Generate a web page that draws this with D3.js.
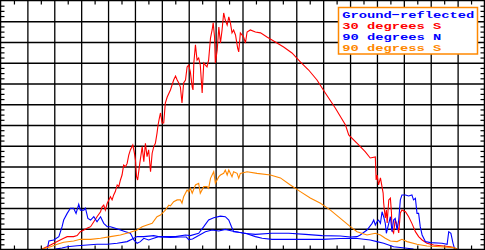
<!DOCTYPE html>
<html>
<head>
<meta charset="utf-8">
<script src="https://cdn.jsdelivr.net/npm/d3@7"></script>
<style>
  body { margin: 0; background: #fff; }
  svg { display: block; }
</style>
</head>
<body>
<div id="chart"></div>
<script>
// irradiance on surfaces, W/m2 against hour of day
var hourTicks = [4, 5, 6, 7, 8, 9, 10, 11, 12, 13, 14, 15, 16, 17, 18, 19, 20];
var wattTicks = [100, 200, 300, 400, 500, 600, 700, 800, 900, 1000, 1100];

var seriesNames = ["Ground\u2212reflected", "30 degrees S", "90 degrees N", "90 degress S"];
var seriesColors = ["#0000ff", "#ff0000", "#0000ff", "#ff8800"];

var groundReflected = [
  [5.04, 2], [5.29, 7], [5.48, 13], [5.85, 18], [6.22, 22], [6.59, 25], [6.97, 25], [7.34, 30],
  [7.71, 38], [7.96, 54], [8.08, 62], [8.33, 62], [8.70, 67], [8.95, 60], [9.32, 58], [9.69, 60],
  [9.91, 60], [10.00, 48], [10.14, 51], [10.37, 67], [10.62, 86], [10.87, 94], [11.12, 89],
  [11.36, 97], [11.61, 89], [11.86, 83], [12.11, 78], [12.48, 62], [12.73, 54], [13.10, 49],
  [13.72, 49], [14.34, 49], [14.96, 49], [15.64, 53], [16.20, 54], [16.75, 46], [17.00, 38],
  [17.25, 30], [17.62, 13], [18.12, 6], [18.36, 2]
];

var deg30S = [
  [4.55, 2], [4.61, 6], [4.86, 22], [5.11, 38], [5.35, 54], [5.48, 62], [5.72, 62], [5.85, 67],
  [5.97, 86], [6.10, 94], [6.22, 102], [6.35, 110], [6.47, 134], [6.59, 158], [6.72, 182],
  [6.78, 206], [6.84, 214], [6.90, 190], [6.97, 223], [7.03, 239], [7.09, 254], [7.15, 239],
  [7.21, 263], [7.27, 279], [7.34, 311], [7.40, 303], [7.46, 335], [7.52, 359], [7.58, 407],
  [7.65, 399], [7.71, 415], [7.77, 455], [7.83, 480], [7.92, 504], [7.98, 464], [8.02, 431],
  [8.06, 351], [8.10, 335], [8.18, 415], [8.27, 496], [8.33, 423], [8.39, 512], [8.45, 447],
  [8.51, 480], [8.58, 375], [8.64, 464], [8.70, 496], [8.76, 512], [8.82, 560], [8.86, 600],
  [8.91, 634], [8.95, 658], [9.01, 610], [9.07, 610], [9.13, 706], [9.20, 735], [9.32, 769],
  [9.44, 817], [9.51, 836], [9.57, 817], [9.63, 803], [9.69, 783], [9.75, 706], [9.81, 803],
  [9.88, 817], [9.94, 880], [10.00, 889], [10.06, 856], [10.13, 783], [10.16, 769], [10.19, 899],
  [10.25, 986], [10.31, 913], [10.37, 923], [10.43, 889], [10.50, 754], [10.56, 899], [10.62, 889],
  [10.68, 880], [10.74, 913], [10.81, 1019], [10.87, 1058], [10.91, 1092], [10.96, 1024],
  [10.99, 899], [11.06, 962], [11.12, 1072], [11.18, 995], [11.24, 1058], [11.30, 1140],
  [11.36, 1106], [11.43, 1082], [11.49, 1121], [11.55, 1092], [11.61, 1044], [11.67, 1058],
  [11.74, 1034], [11.77, 1010], [11.82, 971], [11.86, 952], [11.92, 1044], [11.98, 1034],
  [12.04, 1024], [12.11, 995], [12.17, 1048], [12.29, 1058], [12.48, 1048], [12.67, 1044],
  [12.91, 1024], [13.22, 1000], [13.53, 976], [13.84, 947], [14.15, 904], [14.46, 865],
  [14.77, 817], [15.08, 754], [15.45, 682], [15.83, 600], [15.95, 552], [16.32, 504], [16.57, 470],
  [16.75, 441], [16.94, 446], [16.97, 335], [17.01, 359], [17.06, 311], [17.13, 345], [17.23, 272],
  [17.25, 224], [17.29, 176], [17.31, 152], [17.35, 190], [17.38, 128], [17.44, 239], [17.50, 248],
  [17.54, 176], [17.56, 94], [17.62, 80], [17.68, 142], [17.75, 118], [17.81, 80], [17.87, 176],
  [17.93, 190], [18.06, 182], [18.18, 158], [18.30, 126], [18.43, 86], [18.55, 62], [18.68, 46],
  [18.86, 30], [19.11, 22], [19.48, 17], [19.73, 13], [19.85, 9], [19.98, 2]
];

var deg90N = [
  [4.74, 2], [4.80, 41], [4.98, 46], [5.17, 62], [5.29, 110], [5.35, 142], [5.48, 174], [5.60, 199],
  [5.72, 199], [5.81, 174], [5.91, 218], [5.97, 190], [6.10, 190], [6.16, 199], [6.25, 150],
  [6.35, 142], [6.47, 158], [6.59, 134], [6.72, 158], [6.84, 126], [6.97, 110], [7.09, 110],
  [7.27, 102], [7.46, 94], [7.65, 86], [7.83, 78], [7.96, 46], [8.08, 30], [8.20, 38], [8.33, 54],
  [8.51, 46], [8.70, 54], [8.88, 62], [9.13, 62], [9.51, 62], [9.88, 70], [10.06, 67], [10.37, 78],
  [10.56, 110], [10.74, 142], [10.93, 153], [11.18, 161], [11.36, 158], [11.49, 142], [11.59, 110],
  [11.67, 86], [11.86, 83], [12.04, 78], [12.48, 73], [13.10, 78], [13.72, 78], [14.34, 73],
  [14.96, 67], [15.64, 65], [16.01, 60], [16.26, 62], [16.38, 70], [16.63, 94], [16.82, 126],
  [16.88, 142], [16.94, 118], [17.00, 134], [17.06, 142], [17.13, 126], [17.19, 182], [17.25, 158],
  [17.31, 126], [17.35, 78], [17.44, 126], [17.50, 158], [17.56, 86], [17.62, 142], [17.68, 150],
  [17.75, 94], [17.81, 142], [17.87, 239], [17.93, 263], [18.06, 263], [18.18, 258], [18.30, 263],
  [18.36, 239], [18.43, 247], [18.49, 174], [18.55, 174], [18.61, 110], [18.68, 70], [18.80, 38],
  [18.99, 33], [19.42, 30], [19.61, 25], [19.67, 86], [19.75, 78], [19.83, 30], [19.88, 6], [19.91, 2]
];

var deg90S = [
  [4.55, 2], [4.86, 13], [5.11, 25], [5.35, 35], [5.72, 41], [5.97, 49], [6.35, 49], [6.72, 54],
  [7.09, 62], [7.46, 70], [7.83, 83], [8.08, 94], [8.27, 110], [8.45, 118], [8.64, 126], [8.82, 158],
  [8.95, 166], [9.13, 190], [9.26, 214], [9.32, 210], [9.44, 230], [9.57, 239], [9.69, 239],
  [9.75, 223], [9.81, 254], [9.94, 287], [10.00, 277], [10.06, 295], [10.13, 271], [10.25, 311],
  [10.37, 319], [10.43, 271], [10.56, 303], [10.68, 303], [10.74, 295], [10.81, 343], [10.87, 359],
  [10.93, 375], [10.99, 319], [11.12, 351], [11.18, 359], [11.30, 367], [11.36, 383], [11.43, 359],
  [11.49, 383], [11.61, 351], [11.67, 375], [11.80, 367], [11.86, 343], [11.92, 367], [12.17, 375],
  [12.54, 367], [13.04, 359], [13.41, 345], [13.78, 311], [14.15, 279], [14.52, 248], [14.90, 223],
  [15.27, 190], [15.64, 150], [16.01, 110], [16.26, 86], [16.63, 70], [16.94, 78], [17.13, 70],
  [17.31, 54], [17.50, 41], [17.75, 38], [17.93, 49], [18.12, 38], [18.49, 25], [18.86, 17],
  [19.36, 13], [19.85, 9], [19.98, 2]
];

var series = [groundReflected, deg30S, deg90N, deg90S];

var width = 485, height = 250;

var svg = d3.select("#chart").append("svg")
    .attr("width", width)
    .attr("height", height);

var x = d3.scaleLinear().domain([3, 21]).range([0.5, 484.5]);
var y = d3.scaleLinear().domain([0, 1200]).range([249.5, 0.5]);

// grid
svg.append("g")
    .attr("transform", "translate(0,249.5)")
    .call(d3.axisBottom(x).tickValues(hourTicks).tickSize(-249).tickFormat(""))
    .call(function(g) { g.select(".domain").remove(); })
    .selectAll("line").attr("stroke", "#000").attr("stroke-width", 1.3);

svg.append("g")
    .attr("transform", "translate(0.5,0)")
    .call(d3.axisLeft(y).tickValues(wattTicks).tickSize(-484).tickFormat(""))
    .call(function(g) { g.select(".domain").remove(); })
    .selectAll("line").attr("stroke", "#000").attr("stroke-width", 1.3);

// minor ticks
var halfHours = d3.range(3.5, 21, 1);
var quarterWatts = d3.range(25, 1200, 25).filter(function(v) { return v % 100 != 0; });

function minor(axis, tx, ty) {
  svg.append("g")
      .attr("transform", "translate(" + tx + "," + ty + ")")
      .call(axis.tickFormat("").tickSizeOuter(0))
      .call(function(g) { g.select(".domain").remove(); })
      .selectAll("line").attr("stroke", "#000").attr("stroke-width", 1.2);
}
minor(d3.axisTop(x).tickValues(halfHours).tickSize(-4), 0, 0.5);
minor(d3.axisBottom(x).tickValues(halfHours).tickSize(-4), 0, 249.5);
minor(d3.axisLeft(y).tickValues(quarterWatts).tickSize(-4), 0.5, 0);
minor(d3.axisRight(y).tickValues(quarterWatts).tickSize(-4), 484.5, 0);

// lines
var line = d3.line()
    .x(function(d) { return x(d[0]); })
    .y(function(d) { return y(d[1]); });

svg.append("g").selectAll("path")
    .data(series)
    .enter()
    .append("path")
    .attr("d", line)
    .style("fill", "none")
    .style("stroke", function(d, i) { return seriesColors[i]; })
    .style("stroke-width", 1.1);

// frame
svg.append("rect")
    .attr("x", 0.5).attr("y", 0.5)
    .attr("width", 484).attr("height", 249)
    .style("fill", "none")
    .style("stroke", "#000")
    .style("stroke-width", 1.5);

// legend
var legend = svg.append("g");
legend.append("rect")
    .attr("x", 338.5).attr("y", 7.5)
    .attr("width", 139).attr("height", 46.5)
    .style("fill", "#fff")
    .style("stroke", "#ff8800")
    .style("stroke-width", 1.5);

legend.selectAll("text")
    .data(seriesNames)
    .enter()
    .append("text")
    .attr("x", 342.3)
    .attr("y", function(d, i) { return 17.6 + i * 11.1; })
    .attr("textLength", function(d) { return d.length * 8.25; })
    .attr("lengthAdjust", "spacingAndGlyphs")
    .style("font-family", "'Liberation Mono', 'DejaVu Sans Mono', monospace")
    .style("font-weight", "bold")
    .style("font-size", "9.7px")
    .style("fill", function(d, i) { return seriesColors[i]; })
    .text(function(d) { return d; });
</script>
</body>
</html>
